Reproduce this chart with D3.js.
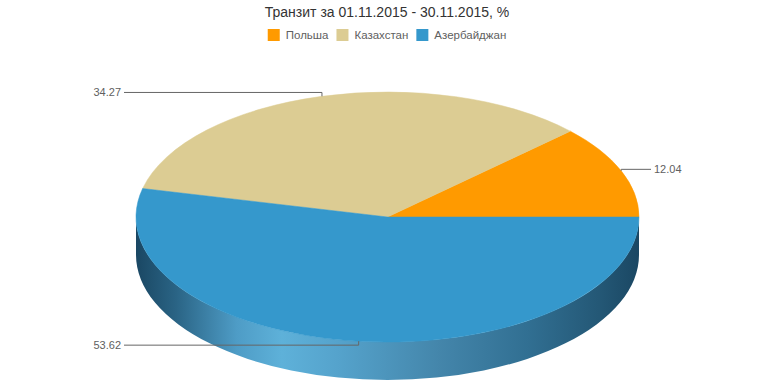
<!DOCTYPE html>
<html>
<head>
<meta charset="utf-8">
<script src="https://cdn.jsdelivr.net/npm/d3@7"></script>
<style>
  html, body { margin: 0; padding: 0; background: #fff; }
  svg { display: block; font-family: "Liberation Sans", Arial, Helvetica, sans-serif; }
</style>
</head>
<body>
<svg id="chart" width="774" height="387"></svg>
<script>
const titleText = "Транзит за 01.11.2015 - 30.11.2015, %";
const categories = ["Польша", "Казахстан", "Азербайджан"];
const values = [12.04, 34.27, 53.62];
const colors = ["#FF9A00", "#DCCC93", "#3598CC"];

const W = 774, H = 387;
const cx = 387.5, cy = 217, rx = 251.5, ry = 125, depth = 38;
const labelDist = 12;

const svg = d3.select("#chart");

// gradient for the side
const defs = svg.append("defs");
const grad = defs.append("linearGradient").attr("id", "sideGrad")
  .attr("gradientUnits", "userSpaceOnUse")
  .attr("x1", cx - rx).attr("x2", cx + rx).attr("y1", 0).attr("y2", 0);
[[0, "#1a4763"], [0.08, "#2a6485"], [0.2, "#4e9cc6"], [0.29, "#5eb1d9"],
 [0.4, "#55a3cc"], [0.6, "#4486ab"], [0.78, "#316f92"], [0.92, "#245876"], [1, "#1a4763"]]
  .forEach(([o, c]) => grad.append("stop").attr("offset", o).attr("stop-color", c));

// title
svg.append("text").attr("x", W / 2).attr("y", 17).attr("text-anchor", "middle")
  .attr("fill", "#333").attr("font-size", 14).text(titleText);

// legend
const legend = svg.append("g");
let lx = 0;
categories.forEach((c, i) => {
  const g = legend.append("g").attr("transform", `translate(${lx},0)`);
  g.append("rect").attr("x", 0).attr("y", 29).attr("width", 12).attr("height", 12)
    .attr("fill", colors[i]);
  const t = g.append("text").attr("x", 18).attr("y", 39).attr("font-size", 11.5)
    .attr("fill", "#606060").text(c);
  const w = t.node().getComputedTextLength();
  lx += 18 + w + (i < categories.length - 1 ? 8 : 0);
});
legend.attr("transform", `translate(${W / 2 - lx / 2},0)`);

// pie angles (counter-clockwise on screen from 3 o'clock)
const pie = d3.pie().sort(null).startAngle(0).endAngle(2 * Math.PI);
const arcs = pie(values);
const pt = (t, dy = 0) => [cx + rx * Math.cos(t), cy - ry * Math.sin(t) + dy];

// side (visible for angles between PI and 2PI)
const sideG = svg.append("g");
arcs.forEach((a, i) => {
  const s = Math.max(a.startAngle, Math.PI), e = Math.min(a.endAngle, 2 * Math.PI);
  if (e <= s) return;
  const p0 = pt(s), p1 = pt(e), q1 = pt(e, depth), q0 = pt(s, depth);
  const large = (e - s) > Math.PI ? 1 : 0;
  const d = `M${p0}A${rx},${ry} 0 ${large} 0 ${p1}L${q1}A${rx},${ry} 0 ${large} 1 ${q0}Z`;
  sideG.append("path").attr("d", d)
    .attr("fill", i === 2 ? "url(#sideGrad)" : d3.color(colors[i]).darker(1))
    .attr("stroke", "none");
});

// top faces
const topG = svg.append("g");
arcs.forEach((a, i) => {
  const p0 = pt(a.startAngle), p1 = pt(a.endAngle);
  const large = (a.endAngle - a.startAngle) > Math.PI ? 1 : 0;
  const d = `M${cx},${cy}L${p0}A${rx},${ry} 0 ${large} 0 ${p1}Z`;
  topG.append("path").attr("d", d).attr("fill", colors[i])
    .attr("stroke", colors[i]).attr("stroke-width", 0.5);
});

// data labels
const lblG = svg.append("g");
arcs.forEach((a, i) => {
  const m = (a.startAngle + a.endAngle) / 2;
  const p = pt(m);
  const right = Math.cos(m) >= 0;
  const ly = cy - (ry + 4) * Math.sin(m);
  const lxEnd = right ? cx + rx + labelDist : cx - rx - labelDist;
  lblG.append("path")
    .attr("d", `M${lxEnd},${ly}L${p[0]},${ly}L${p[0]},${p[1]}`)
    .attr("fill", "none").attr("stroke", "#666").attr("stroke-width", 1);
  lblG.append("text")
    .attr("x", right ? lxEnd + 3 : lxEnd - 3).attr("y", ly + 4)
    .attr("text-anchor", right ? "start" : "end")
    .attr("font-size", 11).attr("fill", "#606060")
    .text(d3.format(".2f")(values[i]));
});
</script>
</body>
</html>
